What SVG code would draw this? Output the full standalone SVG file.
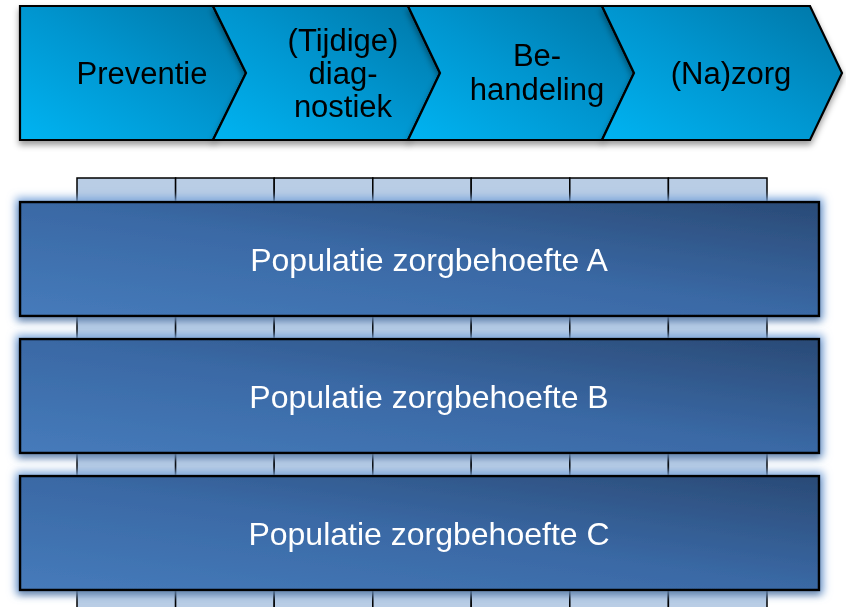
<svg xmlns="http://www.w3.org/2000/svg" width="846" height="607" viewBox="0 0 846 607">
<style>
.chev{stroke:#000;stroke-width:2.2;stroke-linejoin:miter;fill:url(#gChev)}
.pop{stroke:#000;stroke-width:2.5;fill:url(#gPop)}
.col{stroke:#000;stroke-width:1.5;fill:#b9cde5}
.tc{font-family:"Liberation Sans",Arial,sans-serif;font-size:31px;fill:#000;text-anchor:middle}
.tp{font-family:"Liberation Sans",Arial,sans-serif;font-size:32px;fill:#fff;text-anchor:middle}
</style>
<defs>
<linearGradient id="gChev" x1="0" y1="1" x2="1" y2="0">
<stop offset="0" stop-color="#00b4f2"/>
<stop offset="0.5" stop-color="#0196d0"/>
<stop offset="1" stop-color="#0076a6"/>
</linearGradient>
<linearGradient id="gPop" x1="0" y1="1" x2="1" y2="0">
<stop offset="0" stop-color="#467bbb"/>
<stop offset="0.5" stop-color="#3a69a5"/>
<stop offset="1" stop-color="#2a4a76"/>
</linearGradient>
<filter id="fShadow" x="-5%" y="-10%" width="110%" height="130%">
<feGaussianBlur in="SourceAlpha" stdDeviation="3" result="b"/>
<feOffset in="b" dy="4" result="o"/>
<feFlood flood-color="#000" flood-opacity="0.4"/>
<feComposite in2="o" operator="in" result="s"/>
<feMerge><feMergeNode in="s"/><feMergeNode in="SourceGraphic"/></feMerge>
</filter>
<filter id="fGlow" x="-5%" y="-25%" width="110%" height="150%">
<feMorphology in="SourceAlpha" operator="dilate" radius="3" result="d"/>
<feGaussianBlur in="d" stdDeviation="4" result="gb"/>
<feFlood flood-color="#7ea7dc" flood-opacity="1"/>
<feComposite in2="gb" operator="in" result="glow"/>
<feGaussianBlur in="SourceAlpha" stdDeviation="3" result="sb"/>
<feOffset in="sb" dy="4" result="so"/>
<feFlood flood-color="#000" flood-opacity="0.4"/>
<feComposite in2="so" operator="in" result="shadow"/>
<feMerge><feMergeNode in="glow"/><feMergeNode in="shadow"/><feMergeNode in="SourceGraphic"/></feMerge>
</filter>
</defs>
<rect x="0" y="0" width="846" height="607" fill="#fff"/>

<g id="chevrons">
<g id="node-preventie" filter="url(#fShadow)">
<path class="chev" d="M20,6 L213,6 L246,73 L213,140 L20,140 Z"/>
<text class="tc" x="142" y="84">Preventie</text>
</g>
<g id="node-diagnostiek" filter="url(#fShadow)">
<path class="chev" d="M213,6 L408,6 L440,73 L408,140 L213,140 L246,73 Z"/>
<text class="tc" x="343" y="51">(Tijdige)</text>
<text class="tc" x="343" y="84">diag-</text>
<text class="tc" x="343" y="117">nostiek</text>
</g>
<g id="node-behandeling" filter="url(#fShadow)">
<path class="chev" d="M408,6 L602,6 L634,73 L602,140 L408,140 L440,73 Z"/>
<text class="tc" x="537" y="66">Be-</text>
<text class="tc" x="537" y="100">handeling</text>
</g>
<g id="node-nazorg" filter="url(#fShadow)">
<path class="chev" d="M602,6 L810,6 L842,73 L810,140 L602,140 L634,73 Z"/>
<text class="tc" x="731" y="84">(Na)zorg</text>
</g>
</g>

<g id="columns">
<rect class="col" x="77" y="178" width="98.6" height="440"/>
<rect class="col" x="175.6" y="178" width="98.6" height="440"/>
<rect class="col" x="274.2" y="178" width="98.6" height="440"/>
<rect class="col" x="372.8" y="178" width="98.4" height="440"/>
<rect class="col" x="471.2" y="178" width="98.6" height="440"/>
<rect class="col" x="569.8" y="178" width="98.6" height="440"/>
<rect class="col" x="668.4" y="178" width="98.6" height="440"/>
</g>

<g id="node-pop-a" filter="url(#fGlow)">
<rect class="pop" x="20" y="202" width="799" height="114"/>
<text class="tp" x="429" y="271">Populatie zorgbehoefte A</text>
</g>
<g id="node-pop-b" filter="url(#fGlow)">
<rect class="pop" x="20" y="339" width="799" height="114"/>
<text class="tp" x="429" y="408">Populatie zorgbehoefte B</text>
</g>
<g id="node-pop-c" filter="url(#fGlow)">
<rect class="pop" x="20" y="476" width="799" height="114"/>
<text class="tp" x="429" y="545">Populatie zorgbehoefte C</text>
</g>
</svg>
